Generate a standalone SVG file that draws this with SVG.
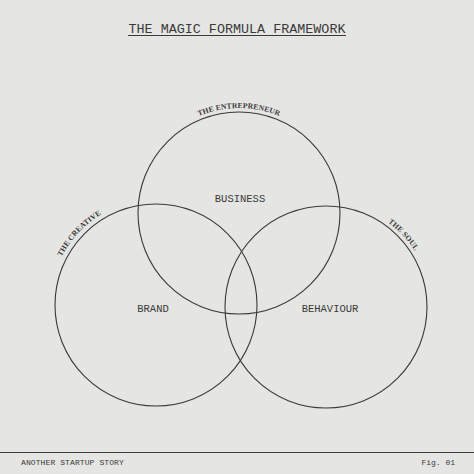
<svg xmlns="http://www.w3.org/2000/svg" xmlns:xlink="http://www.w3.org/1999/xlink" width="474" height="474" viewBox="0 0 474 474">
<style>
.c{fill:none;stroke:#3a3a3a;stroke-width:1.1}
.m{font-family:"Liberation Mono","DejaVu Sans Mono",monospace;fill:#3a3a3a}
.s{font-family:"Liberation Serif","DejaVu Serif",serif;font-size:7.6px;font-weight:bold;fill:#3a3a3a;letter-spacing:0.1px}
.n{font-size:10.5px;text-anchor:middle}
</style>
<defs>
<path id="pTop" d="M158.6,145.5 A105,105 0 0 1 319.4,145.5"/>
<path id="pLeft" d="M50,305 A106,106 0 0 1 148.6,199.3"/>
<path id="pRight" d="M333.3,202.3 A105,105 0 0 1 431,307"/>
</defs>
<rect width="474" height="474" fill="#e5e5e3"/>
<g id="title">
<text class="m" x="237" y="33" font-size="13.4" text-anchor="middle">THE MAGIC FORMULA FRAMEWORK</text>
<line x1="128" y1="35.5" x2="346" y2="35.5" stroke="#3a3a3a" stroke-width="1"/>
</g>
<g id="business">
<circle class="c" cx="239" cy="213" r="101"/>
<text class="m n" x="240" y="202">BUSINESS</text>
<text class="s"><textPath xlink:href="#pTop" startOffset="50%" text-anchor="middle">THE ENTREPRENEUR</textPath></text>
</g>
<g id="brand">
<circle class="c" cx="156" cy="305" r="101"/>
<text class="m n" x="153" y="312">BRAND</text>
<text class="s"><textPath xlink:href="#pLeft" startOffset="50%" text-anchor="middle">THE CREATIVE</textPath></text>
</g>
<g id="behaviour">
<circle class="c" cx="326" cy="307" r="101"/>
<text class="m n" x="330" y="312">BEHAVIOUR</text>
<text class="s"><textPath xlink:href="#pRight" startOffset="50%" text-anchor="middle">THE SOUL</textPath></text>
</g>
<g id="connectors"></g>
<g id="footer">
<line x1="0" y1="452.5" x2="474" y2="452.5" stroke="#3a3a3a" stroke-width="1"/>
<text class="m" x="21" y="465" font-size="8" letter-spacing="0.1">ANOTHER STARTUP STORY</text>
<text class="m" x="455" y="465" font-size="8" text-anchor="end">Fig. 01</text>
</g>
</svg>
